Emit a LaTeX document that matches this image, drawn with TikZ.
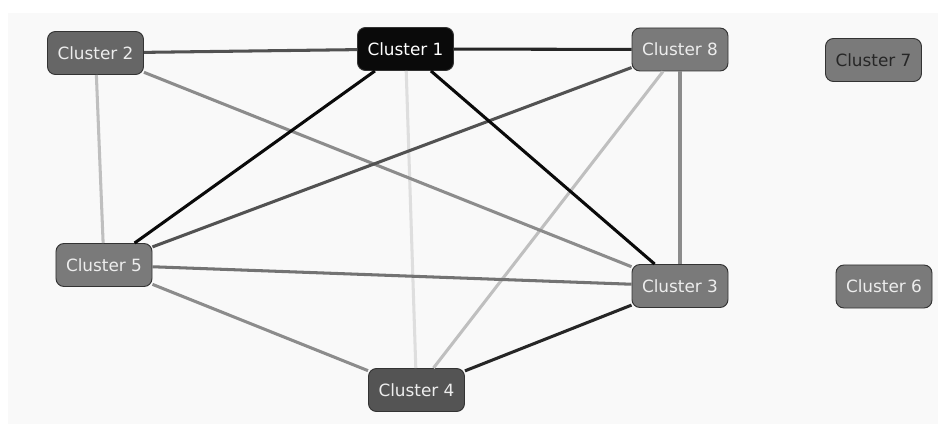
\documentclass[tikz,border=0pt]{standalone}
\usepackage{fontspec}
\setmainfont{DejaVu Sans}
\definecolor{mypanel}{gray}{.975}
\definecolor{myborder}{gray}{.2}
\definecolor{mylighttext}{gray}{.93}
\definecolor{mydarktext}{gray}{.15}
\definecolor{myblack}{gray}{.04}
\definecolor{mydarkgray}{gray}{.33}
\definecolor{mydimgray}{gray}{.40}
\definecolor{mymidgray}{gray}{.48}
\definecolor{myedgedark}{gray}{.15}
\definecolor{myedgemid}{gray}{.32}
\definecolor{myedgegray}{gray}{.45}
\definecolor{myedgelight}{gray}{.55}
\definecolor{myedgepale}{gray}{.75}
\definecolor{myedgefaint}{gray}{.87}
\newcommand{\widthcluster}{2.88cm}
\newcommand{\heightcluster}{1.29cm}
\tikzset{
    cluster/.style={draw=myborder, line width=0.8pt, rounded corners=0.24cm,
        minimum width=\widthcluster, minimum height=\heightcluster,
        font=\fontsize{14.4}{16}\selectfont, text=mylighttext},
    link/.style={line width=2.6pt}
}
\begin{document}
\begin{tikzpicture}[x=0.03cm, y=-0.03cm]
        \useasboundingbox (0,0) rectangle (938,425);
        \fill[mypanel] (8,13) rectangle (938,424);

        \node[cluster, fill=myblack, text=white] (c1) at (405.5,49) {Cluster 1};
        \node[cluster, fill=mydimgray] (c2) at (95.5,53) {Cluster 2};
        \node[cluster, fill=mymidgray] (c3) at (680,286) {Cluster 3};
        \node[cluster, fill=mydarkgray] (c4) at (416.5,390) {Cluster 4};
        \node[cluster, fill=mymidgray] (c5) at (104,265) {Cluster 5};
        \node[cluster, fill=mymidgray] (c6) at (884,286.5) {Cluster 6};
        \node[cluster, fill=mymidgray, text=mydarktext] (c7) at (873.5,60) {Cluster 7};
        \node[cluster, fill=mymidgray] (c8) at (680,49.5) {Cluster 8};

        \draw[link, myedgefaint] (c1) -- (c4);
        \draw[link, myedgepale] (c2) -- (c5);
        \draw[link, myedgepale] (c8) -- (c4);
        \draw[link, myedgelight] (c2) -- (c3);
        \draw[link, myedgelight] (c8) -- (c3);
        \draw[link, myedgelight] (c5) -- (c4);
        \draw[link, myedgegray] (c5) -- (c3);
        \draw[link, myedgemid] (c2) -- (c1);
        \draw[link, myedgemid] (c8) -- (c5);
        \draw[link, myedgedark] (c1) -- (c8);
        \draw[link, myedgedark] (c4) -- (c3);
        \draw[link, myblack] (c1) -- (c5);
        \draw[link, myblack] (c1) -- (c3);
    \end{tikzpicture}
\end{document}
